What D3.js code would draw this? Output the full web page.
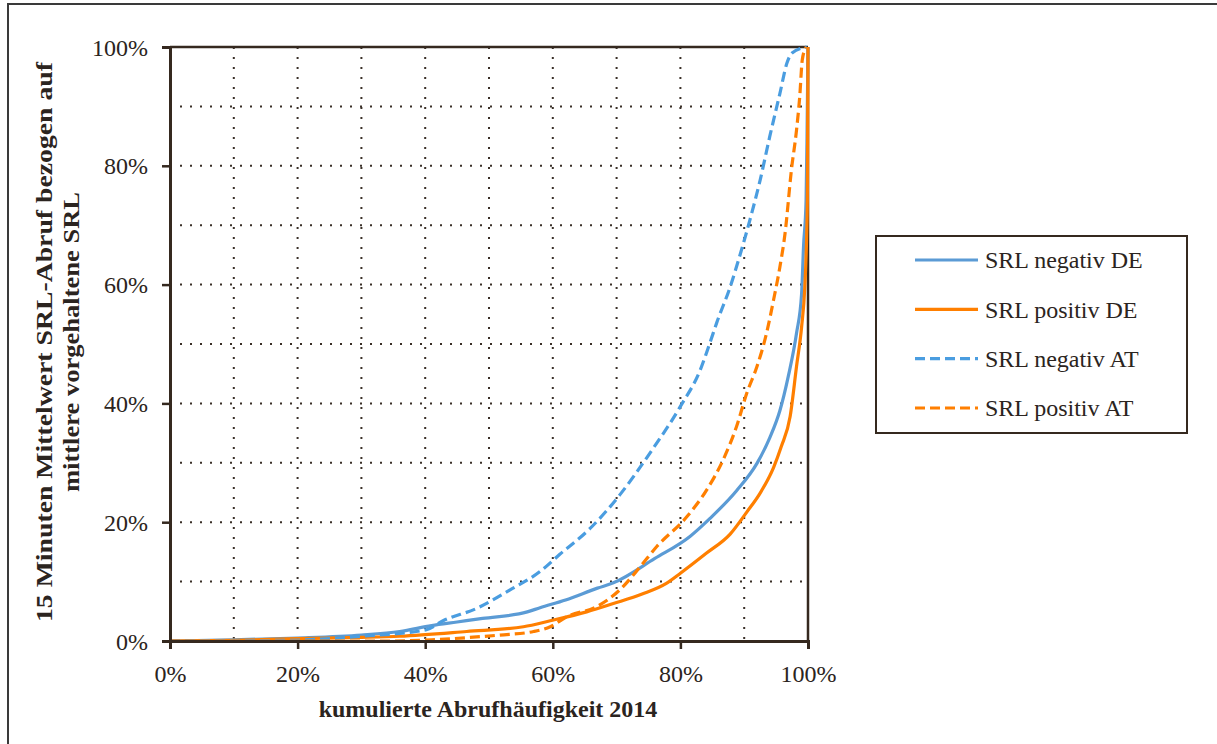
<!DOCTYPE html>
<html>
<head>
<meta charset="utf-8">
<script src="https://cdn.jsdelivr.net/npm/d3@7"></script>
<style>
  html, body { margin: 0; padding: 0; background: #fff; }
  svg { display: block; }
  svg text { font-family: "Liberation Serif", "Times New Roman", Tinos, Times, "Nimbus Roman", "FreeSerif", serif; fill: #2b2420; }
</style>
</head>
<body>
<svg id="chart" width="1217" height="744"></svg>
<script>
// ---- data (x: cumulative frequency %, y: share %) ----
const seriesNames = ["SRL negativ DE", "SRL positiv DE", "SRL negativ AT", "SRL positiv AT"];
const negDE = [[0,0],[10,0.2],[20,0.5],[30,1.0],[36,1.6],[41,2.6],[45,3.2],[49,3.8],[56,4.9],[58,5.6],[62,6.9],[67,8.9],[69.5,9.8],[76,13.9],[81.5,17.6],[84.6,20.6],[88.8,25.3],[92,29.9],[94,34.2],[95.6,38.8],[96.9,44.5],[98.2,51.8],[99,58.5],[99.3,66.4],[99.7,74.2],[99.85,85],[100,100]];
const posDE = [[0,0],[10,0.1],[20,0.4],[30,0.6],[36,0.8],[46.5,1.6],[55.4,2.4],[59.6,3.4],[65.3,4.9],[69.5,6.3],[74,7.9],[77.8,9.7],[80,11.4],[84.1,14.8],[87.8,18.0],[90.4,21.7],[92.5,24.9],[94.6,29.2],[95.8,32.7],[97.2,37.8],[98.2,46.2],[99,52.9],[99.5,59.6],[99.8,68.6],[99.9,74.2],[100,100]];
const negAT = [[0,0],[17.5,0.1],[30,0.8],[40.2,1.9],[42.8,3.4],[48.1,5.5],[53.3,8.6],[58,11.7],[61.1,14.6],[65.8,18.9],[70.5,24.6],[75.2,31.6],[80,39.5],[83.1,45.6],[84.6,50.1],[85.7,53.6],[87.8,59.6],[89.4,65.2],[90.9,70.9],[92.5,77.6],[94,84.9],[95.6,92.2],[96.7,97.3],[97.5,99],[99.8,100]];
const posAT = [[0,0],[34.5,0],[41,0.2],[47,0.6],[51.7,1.0],[57,1.6],[59.6,2.4],[62.2,4.1],[66.9,5.8],[70.5,8.6],[73.7,12.5],[76.3,15.9],[81,20.9],[84.1,25.4],[86.7,30.5],[88.8,36.1],[90.4,41.7],[92,46.2],[93.5,51.8],[94.6,57.4],[95.6,63],[96.4,68.6],[97.4,79.3],[98.2,86],[98.7,91.6],[99.1,97.8],[99.7,100]];
const majorTicks = [0, 20, 40, 60, 80, 100];
const gridTicks = [10, 20, 30, 40, 50, 60, 70, 80, 90];
const xTitle = "kumulierte Abrufhäufigkeit 2014";
const yTitle = ["15 Minuten Mittelwert SRL-Abruf bezogen auf", "mittlere vorgehaltene SRL"];

// ---- layout ----
const svg = d3.select("#chart");
const L = 170, R = 808, T = 47, B = 641;
const x = d3.scaleLinear().domain([0, 100]).range([L, R]);
const y = d3.scaleLinear().domain([0, 100]).range([B, T]);
const axisColor = "#35291f";
const FONT = '"Liberation Serif", "Times New Roman", Tinos, Times, "Nimbus Roman", FreeSerif, serif';

const styles = [
  { data: negDE, color: "#5b9bd5", dash: null },
  { data: posDE, color: "#ff7f00", dash: null },
  { data: negAT, color: "#4a9de0", dash: "10,5" },
  { data: posAT, color: "#ff7f00", dash: "10,5" }
];

// outer frame
svg.append("path").attr("d", "M8,744 L8,4 L1217,4")
  .attr("fill", "none").attr("stroke", "#3a3a3a").attr("stroke-width", 2);

// grid (dotted)
const grid = svg.append("g");
grid.selectAll("line.v").data(gridTicks).enter().append("line")
  .attr("x1", d => x(d)).attr("x2", d => x(d)).attr("y1", y(100)).attr("y2", y(0))
  .attr("stroke", "#3a3028").attr("stroke-width", 2).attr("stroke-dasharray", "2,8");
grid.selectAll("line.h").data(gridTicks).enter().append("line")
  .attr("y1", d => y(d)).attr("y2", d => y(d)).attr("x1", x(0)).attr("x2", x(100))
  .attr("stroke", "#3a3028").attr("stroke-width", 2).attr("stroke-dasharray", "2,8");

// top & right frame of plot
svg.append("line").attr("x1", x(0)).attr("x2", x(100)).attr("y1", y(100)).attr("y2", y(100))
  .attr("stroke", axisColor).attr("stroke-width", 2.5);
svg.append("line").attr("x1", x(100)).attr("x2", x(100)).attr("y1", y(100)).attr("y2", y(0))
  .attr("stroke", axisColor).attr("stroke-width", 2.5);

// series
const line = d3.line().x(d => x(d[0])).y(d => y(d[1])).curve(d3.curveMonotoneX);
styles.forEach(s => {
  svg.append("path").datum(s.data).attr("d", line)
    .attr("fill", "none").attr("stroke", s.color).attr("stroke-width", 3.2)
    .attr("stroke-linejoin", "round")
    .attr("stroke-dasharray", s.dash);
});

// axes
const xAxis = d3.axisBottom(x).tickValues(majorTicks).tickSize(8).tickFormat(d => d + "%");
const yAxis = d3.axisLeft(y).tickValues(majorTicks).tickSize(8).tickFormat(d => d + "%");
const gx = svg.append("g").attr("transform", `translate(0,${B})`).call(xAxis);
const gy = svg.append("g").attr("transform", `translate(${L},0)`).call(yAxis);
[gx, gy].forEach(g => {
  g.attr("font-family", FONT);
  g.select(".domain").attr("stroke", axisColor).attr("stroke-width", 3);
  g.selectAll(".tick line").attr("stroke", axisColor).attr("stroke-width", 2.5);
  g.selectAll(".tick text").attr("font-size", 24).attr("fill", "#2b2420");
});
gx.selectAll(".tick text").attr("y", 24).attr("dy", "0.71em");
gy.selectAll(".tick text").attr("x", -22).attr("dy", "0.34em");

// axis titles
svg.append("text").attr("x", 488).attr("y", 717).attr("text-anchor", "middle")
  .attr("font-size", 24).attr("font-weight", "bold").text(xTitle);
const yt = svg.append("text").attr("transform", "translate(52,342) rotate(-90)")
  .attr("text-anchor", "middle").attr("font-size", 24).attr("font-weight", "bold");
yt.append("tspan").attr("x", 0).attr("y", 0).attr("textLength", 560).attr("lengthAdjust", "spacingAndGlyphs").text(yTitle[0]);
yt.append("tspan").attr("x", 0).attr("y", 27).attr("textLength", 300).attr("lengthAdjust", "spacingAndGlyphs").text(yTitle[1]);

// legend
const lg = svg.append("g");
lg.append("rect").attr("x", 876).attr("y", 236).attr("width", 311).attr("height", 197)
  .attr("fill", "#fff").attr("stroke", "#35291f").attr("stroke-width", 2);
const rowY = d3.scalePoint().domain(seriesNames).range([260, 408]);
seriesNames.forEach((name, i) => {
  const s = styles[i];
  lg.append("line").attr("x1", 915).attr("x2", 978).attr("y1", rowY(name)).attr("y2", rowY(name))
    .attr("stroke", s.color).attr("stroke-width", 3.2).attr("stroke-dasharray", s.dash);
  lg.append("text").attr("x", 985).attr("y", rowY(name)).attr("dy", "0.35em")
    .attr("font-size", 24).text(name);
});
</script>
</body>
</html>
